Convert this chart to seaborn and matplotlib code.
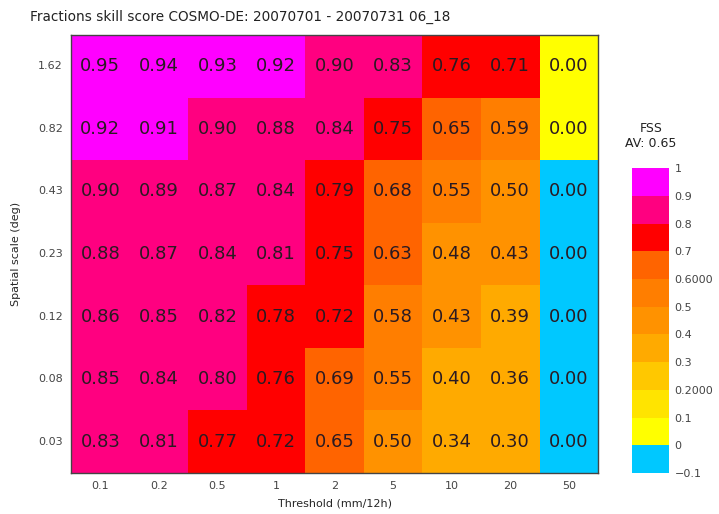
"""
Fractions skill score heatmap — COSMO-DE, July 2007
"""

import numpy as np
import pandas as pd
import matplotlib
matplotlib.use('Agg')
import matplotlib.pyplot as plt
from matplotlib.colors import ListedColormap, BoundaryNorm
import seaborn as sns

sns.set_style('white')
plt.rcParams.update({
    'font.family': ['DejaVu Sans'],
    'axes.edgecolor': '#444444', 'axes.linewidth': 1.0,
    'xtick.color': '#444444', 'ytick.color': '#444444',
    'text.color': '#222222',
})

# ── Data ───────────────────────────────────────────────
thresholds = ['0.1', '0.2', '0.5', '1', '2', '5', '10', '20', '50']
scales     = ['1.62', '0.82', '0.43', '0.23', '0.12', '0.08', '0.03']

row_162 = [0.95, 0.94, 0.93, 0.92, 0.898, 0.83, 0.76, 0.71, 0.004]
row_082 = [0.92, 0.91, 0.898, 0.88, 0.84, 0.75, 0.65, 0.59, 0.004]
row_043 = [0.898, 0.89, 0.87, 0.84, 0.79, 0.68, 0.55, 0.497, 0.0]
row_023 = [0.88, 0.87, 0.84, 0.81, 0.75, 0.63, 0.48, 0.43, 0.0]
row_012 = [0.86, 0.85, 0.82, 0.78, 0.72, 0.58, 0.43, 0.39, 0.0]
row_008 = [0.85, 0.84, 0.802, 0.76, 0.69, 0.55, 0.398, 0.36, 0.0]
row_003 = [0.83, 0.81, 0.77, 0.72, 0.65, 0.497, 0.34, 0.302, 0.0]

fss_av = 0.65

df = pd.DataFrame([row_162, row_082, row_043, row_023, row_012, row_008, row_003],
                  index=scales, columns=thresholds)

# ── Colour table (IDL-like, 0.1 steps) ─────────────────
bounds = [-0.1, 0.001, 0.1, 0.2, 0.3, 0.4, 0.5, 0.6, 0.7, 0.8, 0.9, 1.0]
bound_labels = ['\u22120.1', '0', '0.1', '0.2000', '0.3', '0.4', '0.5',
                '0.6000', '0.7', '0.8', '0.9', '1']
colors = ['#00c8ff', '#ffff00', '#ffe400', '#ffc800', '#ffaa00', '#ff9200',
          '#ff7e00', '#ff6400', '#ff0000', '#ff0080', '#ff00ff']
cmap = ListedColormap(colors)
norm = BoundaryNorm(bounds, cmap.N)

# ── Plot ───────────────────────────────────────────────
fig = plt.figure(figsize=(7.19, 5.14), dpi=100)
ax  = fig.add_axes([0.0988, 0.0798, 0.733, 0.852])
cax = fig.add_axes([0.879, 0.0798, 0.0515, 0.593])

sns.heatmap(df, cmap=cmap, norm=norm, annot=True, fmt='.2f', ax=ax,
            cbar_ax=cax, cbar_kws={'ticks': bounds},
            annot_kws={'fontsize': 13, 'color': '#2a1a22'})

for s in ax.spines.values():
    s.set_visible(True)
ax.tick_params(length=0, labelsize=8, pad=6)
ax.set_yticklabels(scales, rotation=0)
ax.set_xticklabels(thresholds, rotation=0)
ax.set_xlabel('Threshold (mm/12h)', fontsize=8, labelpad=5)
ax.set_ylabel('Spatial scale (deg)', fontsize=8, labelpad=12)
fig.text(0.042, 0.968, 'Fractions skill score COSMO-DE: 20070701 - 20070731 06_18',
         fontsize=9.8, ha='left', va='center')

cbar = ax.collections[0].colorbar
cbar.outline.set_visible(False)
cax.set_yticklabels(bound_labels)
cax.tick_params(length=0, labelsize=8, pad=4)
fig.text(0.905, 0.75, 'FSS', fontsize=9, ha='center', va='center')
fig.text(0.905, 0.72, f'AV: {fss_av:.2f}', fontsize=9, ha='center', va='center')

plt.savefig('out.png', dpi=100, facecolor='white')
plt.close()
